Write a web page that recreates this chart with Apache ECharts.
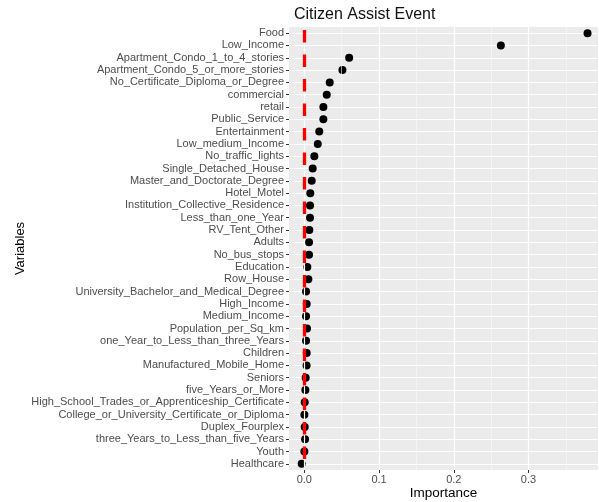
<!DOCTYPE html>
<html>
<head>
<meta charset="utf-8">
<script src="https://cdn.jsdelivr.net/npm/echarts@6/dist/echarts.min.js"></script>
<style>
html, body { margin: 0; padding: 0; background: #fff; }
#chart { width: 599px; height: 502px; }
</style>
</head>
<body>
<div id="chart"></div>
<script>
// variables, top to bottom
var variables = [
	"Food", "Low_Income", "Apartment_Condo_1_to_4_stories", "Apartment_Condo_5_or_more_stories",
	"No_Certificate_Diploma_or_Degree", "commercial", "retail", "Public_Service", "Entertainment",
	"Low_medium_Income", "No_traffic_lights", "Single_Detached_House", "Master_and_Doctorate_Degree",
	"Hotel_Motel", "Institution_Collective_Residence", "Less_than_one_Year", "RV_Tent_Other",
	"Adults", "No_bus_stops", "Education", "Row_House", "University_Bachelor_and_Medical_Degree",
	"High_Income", "Medium_Income", "Population_per_Sq_km", "one_Year_to_Less_than_three_Years",
	"Children", "Manufactured_Mobile_Home", "Seniors", "five_Years_or_More",
	"High_School_Trades_or_Apprenticeship_Certificate", "College_or_University_Certificate_or_Diploma",
	"Duplex_Fourplex", "three_Years_to_Less_than_five_Years", "Youth", "Healthcare"
]
var importance = [
	0.379, 0.263, 0.060, 0.051,
	0.034, 0.030, 0.0255, 0.0255, 0.020,
	0.018, 0.0134, 0.0112, 0.0099,
	0.008, 0.0076, 0.0076, 0.0067,
	0.0063, 0.0063, 0.004, 0.0054, 0.0023,
	0.0032, 0.0023, 0.0036, 0.0023,
	0.0032, 0.003, 0.0018, 0.0014,
	0.0005, 0.0001,
	0.0005, 0.001, 0.0001, -0.0035
]
var xTicks = [0, 0.1, 0.2, 0.3]
var xMinor = [0.05, 0.15, 0.25, 0.35]
var refLine = 0

var chart = echarts.init(document.getElementById("chart"))

var gridLines = xMinor.map(function (v) {
	return { xAxis: v, lineStyle: { color: "#fafafa", width: 0.6, type: "solid" } }
}).concat(xTicks.map(function (v) {
	return { xAxis: v, lineStyle: { color: "#ffffff", width: 1.2, type: "solid" } }
}))

var option = {
	animation: false,
	textStyle: { fontFamily: "Liberation Sans, Arial, sans-serif" },
	title: {
		text: "Citizen Assist Event",
		left: 289,
		top: 2,
		textStyle: { fontSize: 16, fontWeight: "normal", color: "#111" }
	},
	grid: {
		left: 289, right: 1, top: 27, bottom: 32,
		containLabel: false, outerBoundsMode: "none",
		show: true, backgroundColor: "#ebebeb", borderWidth: 0
	},
	xAxis: {
		type: "value",
		min: -0.0205,
		max: 0.393,
		name: "Importance",
		nameLocation: "middle",
		nameGap: 16,
		nameMoveOverlap: false,
		nameTextStyle: { fontSize: 13.5, color: "#000" },
		axisLine: { show: false, onZero: false },
		axisTick: { show: true, customValues: xTicks, length: 3, lineStyle: { color: "#333" } },
		axisLabel: {
			customValues: xTicks, fontSize: 11, color: "#4d4d4d", margin: 4,
			formatter: function (v) { return v.toFixed(1) }
		},
		splitLine: { show: false }
	},
	yAxis: {
		type: "category",
		data: variables,
		inverse: true,
		name: "Variables",
		nameLocation: "middle",
		nameRotate: 90,
		nameGap: 262,
		nameMoveOverlap: false,
		nameTextStyle: { fontSize: 13, color: "#000" },
		axisLine: { show: false, onZero: false },
		axisTick: { show: true, alignWithLabel: true, length: 3, lineStyle: { color: "#333" } },
		axisLabel: { fontSize: 11, color: "#4d4d4d", margin: 5, interval: 0 },
		splitLine: { show: true, alignWithLabel: true, interval: 0, lineStyle: { color: "#fff", width: 1.1 } }
	},
	series: [
		{
			type: "scatter",
			silent: true,
			data: [],
			markLine: {
				silent: true, symbol: "none", label: { show: false },
				data: gridLines
			},
			z: 1
		},
		{
			type: "scatter",
			data: importance.map(function (v, i) { return [v, variables[i]] }),
			symbol: "circle",
			symbolSize: 8,
			itemStyle: { color: "#000", opacity: 1 },
			z: 3
		},
		{
			type: "scatter",
			silent: true,
			data: [],
			markLine: {
				silent: true, symbol: "none", label: { show: false },
				data: [{ xAxis: refLine }],
				lineStyle: { color: "#ff0000", width: 3.3, type: [12.5, 12], dashOffset: -3 }
			},
			z: 5
		}
	]
}
chart.setOption(option)
</script>
</body>
</html>
